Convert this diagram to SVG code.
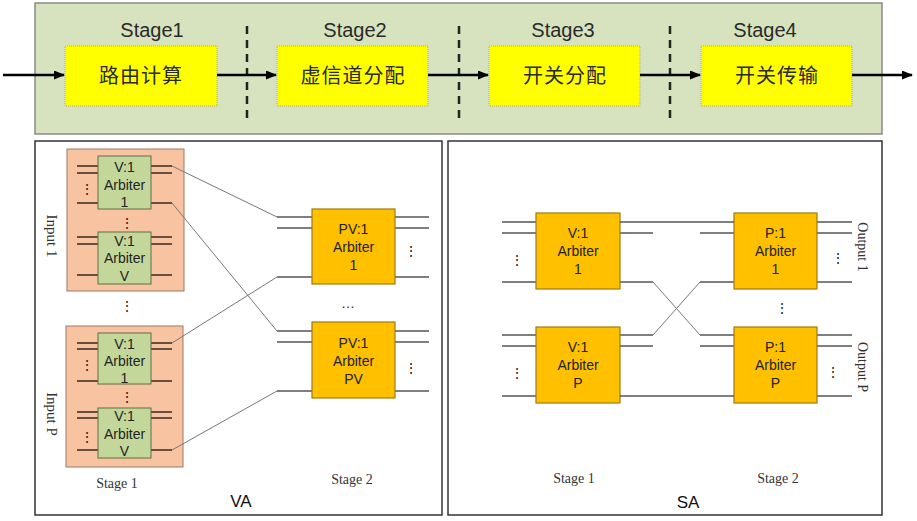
<svg xmlns="http://www.w3.org/2000/svg" width="917" height="521" viewBox="0 0 917 521">
<defs>
<marker id="ah" markerWidth="11" markerHeight="9" refX="10" refY="4.500" orient="auto" markerUnits="userSpaceOnUse">
<path d="M0,0 L11,4.500 L0,9 Z" fill="#000"/>
</marker>
<style>
.panel{fill:#fff;stroke:#333;stroke-width:1.5}
.top{fill:#d7e3bf;stroke:#8a8a8a;stroke-width:1.5}
.ybox{fill:#ffff00;stroke:#b8b060;stroke-width:1;stroke-dasharray:1 1}
.stg{font-family:"Liberation Sans",Arial,sans-serif;font-size:20px;fill:#2a2a2a;text-anchor:middle}
.cn{font-family:"Noto Sans CJK SC",sans-serif;font-size:20px;fill:#2a2a2a;text-anchor:middle;letter-spacing:1px}
.dash{stroke:#222;stroke-width:2.5;stroke-dasharray:8 6}
.arr{stroke:#000;stroke-width:2.5;fill:none}
.inp{fill:#f8c3a1;stroke:#9a7a66;stroke-width:1}
.gbox{fill:#c4d79b;stroke:#5e6e44;stroke-width:1}
.obox{fill:#ffc000;stroke:#a07a10;stroke-width:1.2}
.lab{font-family:"Liberation Sans",Arial,sans-serif;font-size:14px;fill:#222;text-anchor:middle}
.ser{font-family:"Liberation Serif","Times New Roman",serif;font-size:14px;fill:#333;text-anchor:middle}
.rot{font-family:"Liberation Serif","Times New Roman",serif;font-size:15px;fill:#333;text-anchor:middle}
.big{font-family:"Liberation Sans",Arial,sans-serif;font-size:17px;fill:#111;text-anchor:middle}
.stub{stroke:#3a2a20;stroke-width:1.3;fill:none}
.gstub{stroke:#555;stroke-width:1.3;fill:none}
.conn{stroke:#777;stroke-width:1;fill:none}
.dot{font-family:"Liberation Sans",Arial,sans-serif;font-size:14px;fill:#222;text-anchor:middle}
</style>
</defs>

<g id="pipeline">
<rect class="top" x="35" y="3" width="847" height="131"/>
<line class="dash" x1="247" y1="26" x2="247" y2="124"/>
<line class="dash" x1="459" y1="26" x2="459" y2="124"/>
<line class="dash" x1="670" y1="26" x2="670" y2="124"/>
</g>

<g id="stage1">
<text class="stg" x="152" y="37">Stage1</text>
<rect class="ybox" x="65" y="46" width="152" height="60"/>
<text class="cn" x="141" y="83">路由计算</text>
</g>
<g id="stage2">
<text class="stg" x="355" y="37">Stage2</text>
<rect class="ybox" x="277" y="46" width="151" height="60"/>
<text class="cn" x="353" y="83">虚信道分配</text>
</g>
<g id="stage3">
<text class="stg" x="563" y="37">Stage3</text>
<rect class="ybox" x="489" y="46" width="151" height="60"/>
<text class="cn" x="565" y="83">开关分配</text>
</g>
<g id="stage4">
<text class="stg" x="765" y="37">Stage4</text>
<rect class="ybox" x="701" y="46" width="151" height="60"/>
<text class="cn" x="777" y="83">开关传输</text>
</g>

<g id="pipeline-arrows">
<line class="arr" x1="3" y1="75" x2="64" y2="75" marker-end="url(#ah)"/>
<line class="arr" x1="217" y1="75" x2="276" y2="75" marker-end="url(#ah)"/>
<line class="arr" x1="428" y1="75" x2="488" y2="75" marker-end="url(#ah)"/>
<line class="arr" x1="640" y1="75" x2="700" y2="75" marker-end="url(#ah)"/>
<line class="arr" x1="852" y1="75" x2="912" y2="75" marker-end="url(#ah)"/>
</g>

<g id="va-panel">
<rect class="panel" x="35" y="141" width="407" height="374"/>
<text class="big" x="241" y="507">VA</text>
<text class="ser" x="117" y="488">Stage 1</text>
<text class="ser" x="352" y="484">Stage 2</text>
<text class="dot" x="127" y="311">⋮</text>
<text class="dot" x="348" y="308">…</text>
</g>

<g id="input1">
<rect class="inp" x="67" y="149" width="117" height="142"/>
<text class="rot" transform="translate(47,236) rotate(90)">Input 1</text>
<text class="dot" x="127" y="228">⋮</text>
</g>
<g id="in1-arb1">
<path class="stub" d="M77,166H98M77,173H98M77,203H98M151,166H172M151,173H172M151,203H172"/>
<rect class="gbox" x="98" y="156" width="53" height="53"/>
<text class="lab" x="124.500" y="172">V:1</text>
<text class="lab" x="124.500" y="190">Arbiter</text>
<text class="lab" x="124.500" y="207">1</text>
<text class="dot" x="87" y="194">⋮</text>
</g>
<g id="in1-arbV">
<path class="stub" d="M77,237H98M77,244H98M77,275H98M151,237H172M151,244H172M151,275H172"/>
<rect class="gbox" x="98" y="232" width="53" height="52"/>
<text class="lab" x="124.500" y="246">V:1</text>
<text class="lab" x="124.500" y="263">Arbiter</text>
<text class="lab" x="124.500" y="281">V</text>
</g>

<g id="inputP">
<rect class="inp" x="66" y="326" width="117" height="141"/>
<text class="rot" transform="translate(47,414) rotate(90)">Input P</text>
<text class="dot" x="127" y="402">⋮</text>
</g>
<g id="inP-arb1">
<path class="stub" d="M77,343H98M77,349H98M77,381H98M151,343H172M151,349H172M151,381H172"/>
<rect class="gbox" x="98" y="333" width="53" height="51"/>
<text class="lab" x="124.500" y="349">V:1</text>
<text class="lab" x="124.500" y="366">Arbiter</text>
<text class="lab" x="124.500" y="383">1</text>
<text class="dot" x="87" y="370">⋮</text>
</g>
<g id="inP-arbV">
<path class="stub" d="M77,412H98M77,418H98M77,450H98M151,412H172M151,418H172M151,450H172"/>
<rect class="gbox" x="98" y="408" width="53" height="50"/>
<text class="lab" x="124.500" y="421">V:1</text>
<text class="lab" x="124.500" y="439">Arbiter</text>
<text class="lab" x="124.500" y="456">V</text>
<text class="dot" x="87" y="442">⋮</text>
</g>

<g id="pv-arb1">
<path class="gstub" d="M277,217H312M277,228H312M277,277H312M395,217H429M395,228H429M395,277H429"/>
<rect class="obox" x="312" y="209" width="83" height="75"/>
<text class="lab" x="353.500" y="234">PV:1</text>
<text class="lab" x="353.500" y="252">Arbiter</text>
<text class="lab" x="353.500" y="270">1</text>
<text class="dot" x="411" y="256">⋮</text>
</g>
<g id="pv-arbPV">
<path class="gstub" d="M277,331H312M277,342H312M277,391H312M395,331H429M395,342H429M395,391H429"/>
<rect class="obox" x="312" y="322" width="83" height="76"/>
<text class="lab" x="353.500" y="348">PV:1</text>
<text class="lab" x="353.500" y="366">Arbiter</text>
<text class="lab" x="353.500" y="384">PV</text>
<text class="dot" x="411" y="373">⋮</text>
</g>

<g id="sa-panel">
<rect class="panel" x="448" y="141" width="434" height="374"/>
<text class="big" x="688" y="508">SA</text>
<text class="ser" x="574" y="483">Stage 1</text>
<text class="ser" x="778" y="483">Stage 2</text>
<text class="dot" x="782" y="313">⋮</text>
</g>

<g id="sa-v1">
<path class="gstub" d="M502,222H536M502,233H536M502,282H536M620,233H653M620,282H653"/>
<rect class="obox" x="536" y="213" width="84" height="76"/>
<text class="lab" x="578" y="238">V:1</text>
<text class="lab" x="578" y="256">Arbiter</text>
<text class="lab" x="578" y="274">1</text>
<text class="dot" x="517" y="265">⋮</text>
</g>
<g id="sa-vP">
<path class="gstub" d="M502,335H536M502,346H536M502,396H536M620,335H653M620,346H653"/>
<rect class="obox" x="536" y="327" width="84" height="76"/>
<text class="lab" x="578" y="352">V:1</text>
<text class="lab" x="578" y="370">Arbiter</text>
<text class="lab" x="578" y="388">P</text>
<text class="dot" x="517" y="378">⋮</text>
</g>
<g id="sa-p1">
<path class="gstub" d="M700,233H734M700,282H734M817,222H852M817,233H852M817,282H852"/>
<rect class="obox" x="734" y="213" width="83" height="76"/>
<text class="lab" x="775.500" y="238">P:1</text>
<text class="lab" x="775.500" y="256">Arbiter</text>
<text class="lab" x="775.500" y="274">1</text>
<text class="dot" x="838" y="263">⋮</text>
<text class="ser" transform="translate(858,247) rotate(90)">Output 1</text>
</g>
<g id="sa-pP">
<path class="gstub" d="M700,335H734M700,346H734M817,335H852M817,346H852M817,396H852"/>
<rect class="obox" x="734" y="327" width="83" height="76"/>
<text class="lab" x="775.500" y="352">P:1</text>
<text class="lab" x="775.500" y="370">Arbiter</text>
<text class="lab" x="775.500" y="388">P</text>
<text class="dot" x="833" y="377">⋮</text>
<text class="ser" transform="translate(858,367) rotate(90)">Output P</text>
</g>

<g id="connectors">
<line class="conn" x1="172" y1="166" x2="277" y2="217"/>
<line class="conn" x1="172" y1="203" x2="277" y2="331"/>
<line class="conn" x1="172" y1="343" x2="277" y2="277"/>
<line class="conn" x1="172" y1="450" x2="277" y2="391"/>
<line class="gstub" x1="620" y1="222" x2="734" y2="222"/>
<line class="gstub" x1="620" y1="396" x2="734" y2="396"/>
<line class="conn" x1="653" y1="282" x2="700" y2="335"/>
<line class="conn" x1="653" y1="335" x2="700" y2="282"/>
</g>
</svg>
